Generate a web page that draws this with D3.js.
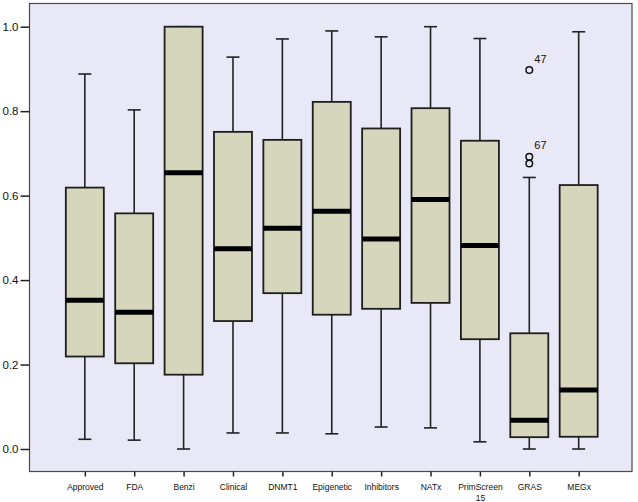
<!DOCTYPE html>
<html>
<head>
<meta charset="utf-8">
<script src="https://cdn.jsdelivr.net/npm/d3@7"></script>
<style>
  html, body { margin: 0; padding: 0; background: #ffffff; }
  svg { display: block; }
</style>
</head>
<body>
<svg id="chart" width="638" height="502"></svg>
<script>
const categories = ["Approved","FDA","Benzi","Clinical","DNMT1","Epigenetic","Inhibitors","NATx","PrimScreen\n15","GRAS","MEGx"];
const lowerWhisker = [0.023, 0.021, 0.000, 0.038, 0.038, 0.036, 0.052, 0.050, 0.017, 0.000, 0.000];
const q1Values     = [0.219, 0.203, 0.176, 0.303, 0.369, 0.318, 0.332, 0.346, 0.260, 0.028, 0.029];
const medianValues = [0.352, 0.324, 0.654, 0.474, 0.523, 0.563, 0.497, 0.591, 0.482, 0.068, 0.140];
const q3Values     = [0.619, 0.558, 1.000, 0.751, 0.732, 0.822, 0.759, 0.807, 0.730, 0.274, 0.625];
const upperWhisker = [0.888, 0.803, 1.000, 0.928, 0.971, 0.990, 0.976, 1.000, 0.972, 0.643, 0.988];
const outlierCategory = ["GRAS", "GRAS", "GRAS"];
const outlierValues   = [0.8975, 0.692, 0.676];
const outlierLabels   = ["47", "", "67"];
const yTickValues = [0.0, 0.2, 0.4, 0.6, 0.8, 1.0];

const svg = d3.select("#chart");
const plot = { left: 29.5, top: 3.5, right: 632, bottom: 471.5 };

const x = d3.scalePoint().domain(categories).range([30.5, 633]).padding(1.1);
const y = d3.scaleLinear().domain([0, 1]).range([449, 26.7]);

// plot background
svg.append("rect")
  .attr("x", plot.left).attr("y", plot.top)
  .attr("width", plot.right - plot.left).attr("height", plot.bottom - plot.top)
  .attr("fill", "#e9e8f6").attr("stroke", "#4a4a4a").attr("stroke-width", 1.2);

const font = "'Liberation Sans', Arial, Helvetica, sans-serif";

// y axis
const yAxis = svg.append("g")
  .attr("transform", `translate(${plot.left},0)`)
  .call(d3.axisLeft(y).tickValues(yTickValues).tickFormat(d3.format(".1f")).tickSize(9).tickPadding(2));
yAxis.select(".domain").remove();
yAxis.selectAll(".tick line").attr("stroke", "#222").attr("stroke-width", 1.5);
yAxis.selectAll(".tick text").attr("fill", "#111").style("font-family", font).style("font-size", "11.5px");

// x axis
const xAxis = svg.append("g")
  .attr("transform", `translate(0,${plot.bottom})`)
  .call(d3.axisBottom(x).tickSize(5).tickFormat(""));
xAxis.select(".domain").remove();
xAxis.selectAll(".tick line").attr("stroke", "#222").attr("stroke-width", 1.5);
xAxis.selectAll(".tick").each(function(d) {
  const lines = d.split("\n");
  const t = d3.select(this).append("text")
    .attr("text-anchor", "middle")
    .attr("fill", "#111")
    .style("font-family", font)
    .style("font-size", "8.5px");
  lines.forEach((ln, i) => {
    t.append("tspan").attr("x", 0).attr("y", 18 + i * 11).text(ln);
  });
});

const boxW = 38, capW = 13;
const g = svg.append("g");
categories.forEach((c, i) => {
  const cx = x(c);
  // whiskers
  g.append("line").attr("x1", cx).attr("x2", cx).attr("y1", y(upperWhisker[i])).attr("y2", y(q3Values[i]))
    .attr("stroke", "#222").attr("stroke-width", 1.6);
  g.append("line").attr("x1", cx).attr("x2", cx).attr("y1", y(q1Values[i])).attr("y2", y(lowerWhisker[i]))
    .attr("stroke", "#222").attr("stroke-width", 1.6);
  g.append("line").attr("x1", cx - capW / 2).attr("x2", cx + capW / 2).attr("y1", y(upperWhisker[i])).attr("y2", y(upperWhisker[i]))
    .attr("stroke", "#222").attr("stroke-width", 1.6);
  g.append("line").attr("x1", cx - capW / 2).attr("x2", cx + capW / 2).attr("y1", y(lowerWhisker[i])).attr("y2", y(lowerWhisker[i]))
    .attr("stroke", "#222").attr("stroke-width", 1.6);
  // box
  g.append("rect")
    .attr("x", cx - boxW / 2).attr("y", y(q3Values[i]))
    .attr("width", boxW).attr("height", y(q1Values[i]) - y(q3Values[i]))
    .attr("fill", "#d6d6bd").attr("stroke", "#1e1e1e").attr("stroke-width", 1.8);
  // median
  g.append("line").attr("x1", cx - boxW / 2).attr("x2", cx + boxW / 2)
    .attr("y1", y(medianValues[i])).attr("y2", y(medianValues[i]))
    .attr("stroke", "#000").attr("stroke-width", 5);
});

// outliers
outlierValues.forEach((v, i) => {
  const cx = x(outlierCategory[i]);
  g.append("circle").attr("cx", cx).attr("cy", y(v)).attr("r", 3.3)
    .attr("fill", "none").attr("stroke", "#111").attr("stroke-width", 1.5);
  if (outlierLabels[i]) {
    g.append("text").attr("x", cx + 5).attr("y", y(v) - (i === 0 ? 7 : 15))
      .attr("fill", "#111").style("font-family", font).style("font-size", "11px")
      .text(outlierLabels[i]);
  }
});
</script>
</body>
</html>
